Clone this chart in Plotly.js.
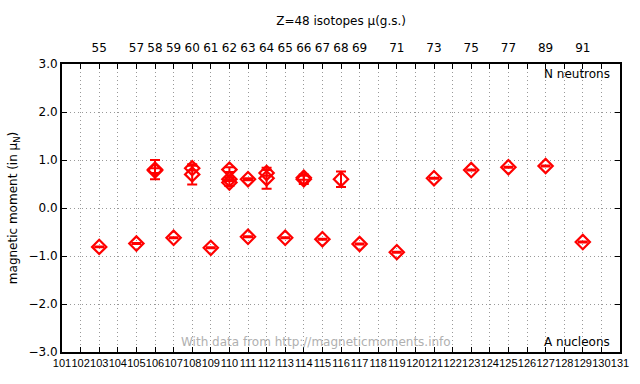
<!DOCTYPE html>
<html>
<head>
<meta charset="utf-8">
<script src="https://cdn.plot.ly/plotly-3.0.1.min.js"></script>
<style>html,body{margin:0;padding:0;background:#fff;}#chart{width:640px;height:384px;}</style>
</head>
<body>
<div id="chart"></div>
<script>
// Mass number A of each measured state
const massA = [103, 105, 106, 106, 107, 108, 108, 109, 110, 110, 110, 111, 111, 112, 112, 113, 114, 114, 115, 116, 117, 119, 121, 123, 125, 127, 129];
// Magnetic moment (in nuclear magnetons)
const mu =    [-0.81, -0.74, 0.80, 0.78, -0.62, 0.70, 0.83, -0.83, 0.80, 0.60, 0.53, 0.60, -0.60, 0.73, 0.62, -0.62, 0.60, 0.63, -0.65, 0.60, -0.75, -0.92, 0.62, 0.79, 0.85, 0.875, -0.71];
// Uncertainty on the moment
const muErr = [0.01, 0.01, 0.20, 0.05, 0.01, 0.21, 0.05, 0.01, 0.05, 0.04, 0.07, 0.02, 0.01, 0.06, 0.22, 0.01, 0.10, 0.04, 0.01, 0.16, 0.01, 0.01, 0.01, 0.01, 0.01, 0.01, 0.01];

// Top axis: neutron number labels
const topTickA = [103, 105, 106, 107, 108, 109, 110, 111, 112, 113, 114, 115, 116, 117, 119, 121, 123, 125, 127, 129];
const topTickText = ['55', '57', '58', '59', '60', '61', '62', '63', '64', '65', '66', '67', '68', '69', '71', '73', '75', '77', '89', '91'];

// Bottom axis ticks
const bottomTicks = [];
for (let a = 101; a <= 131; a++) bottomTicks.push(a);

const FONT = 'DejaVu Sans, sans-serif';
const NARROW = 'Liberation Sans, Arial, sans-serif';
const red = '#ff0000';
const GRIDDASH = '1px,3px';

const trace = {
  x: massA, y: mu, type: 'scatter', mode: 'markers',
  marker: {symbol: 'diamond-open', size: 11, color: red, line: {color: red, width: 2.2}},
  error_y: {type: 'data', array: muErr, visible: true, color: red, thickness: 2, width: 5},
  showlegend: false, hoverinfo: 'x+y'
};
const topTrace = {x: [101, 131], y: [0, 0], xaxis: 'x2', mode: 'markers', marker: {opacity: 0}, showlegend: false, hoverinfo: 'skip'};

const layout = {
  width: 640, height: 384,
  margin: {l: 62, r: 20, t: 64, b: 32},
  paper_bgcolor: '#ffffff', plot_bgcolor: '#ffffff',
  font: {family: FONT, size: 11, color: '#000'},
  title: {text: 'Z=48 isotopes μ(g.s.)', font: {family: FONT, size: 12, color: '#000'}, x: 0.533, xanchor: 'center', y: 0.945, yanchor: 'middle'},
  xaxis: {
    range: [101, 131], tickvals: bottomTicks, ticktext: bottomTicks.map(String),
    showgrid: true, gridcolor: '#999', griddash: GRIDDASH, gridwidth: 1,
    showline: true, linecolor: '#000', linewidth: 2, mirror: 'ticks',
    ticks: 'inside', ticklen: 5, tickcolor: '#000', tickwidth: 1,
    zeroline: false, tickfont: {family: NARROW, size: 11}, tickangle: 0
  },
  xaxis2: {
    range: [101, 131], overlaying: 'x', side: 'top', tickvals: topTickA, ticktext: topTickText,
    showgrid: false, ticks: '', showline: false, zeroline: false,
    tickfont: {family: FONT, size: 12}, tickangle: 0, ticklabelstandoff: 9
  },
  yaxis: {
    range: [-3, 3], dtick: 1, tick0: 0, tickformat: '.1f',
    showgrid: true, gridcolor: '#999', griddash: GRIDDASH, gridwidth: 1,
    showline: true, linecolor: '#000', linewidth: 2, mirror: 'ticks',
    ticks: 'inside', ticklen: 5, tickcolor: '#000', tickwidth: 1,
    zeroline: false, tickfont: {family: FONT, size: 12},
    title: {text: 'magnetic moment (in μ<sub>N</sub>)', font: {family: FONT, size: 12}, standoff: 8}
  },
  annotations: [
    {text: 'N neutrons', xref: 'paper', yref: 'paper', x: 0.985, y: 0.995, xanchor: 'right', yanchor: 'top', showarrow: false, font: {family: FONT, size: 12, color: '#000'}},
    {text: 'A nucleons', xref: 'paper', yref: 'paper', x: 0.985, y: 0.003, xanchor: 'right', yanchor: 'bottom', showarrow: false, font: {family: FONT, size: 12, color: '#000'}},
    {text: 'With data from http://magneticmoments.info', xref: 'paper', yref: 'paper', x: 0.455, y: 0.003, xanchor: 'center', yanchor: 'bottom', showarrow: false, font: {family: FONT, size: 12, color: '#b0b0b0'}}
  ]
};

Plotly.newPlot('chart', [trace, topTrace], layout, {displayModeBar: false, staticPlot: true});
</script>
</body>
</html>
